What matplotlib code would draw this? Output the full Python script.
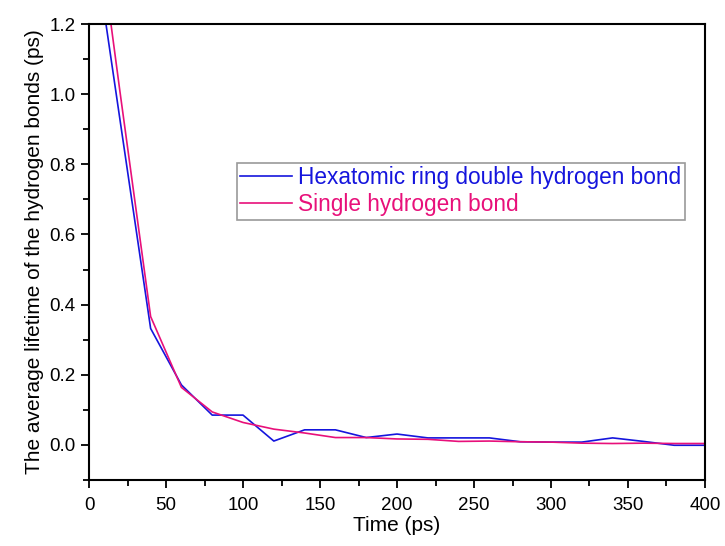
import matplotlib.pyplot as plt
from matplotlib.ticker import MultipleLocator

plt.rcParams['font.family'] = ['Liberation Sans', 'DejaVu Sans']

# time points (ps) and average lifetimes (ps)
time = [0, 20, 40, 60, 80, 100, 120, 140, 160, 180, 200, 220, 240, 260,
        280, 300, 320, 340, 360, 380, 400]
hexatomic = [1.53, 0.93, 0.332, 0.171, 0.085, 0.085, 0.011, 0.043, 0.043, 0.021,
             0.031, 0.020, 0.020, 0.020, 0.009, 0.008, 0.008, 0.020, 0.010,
             -0.001, -0.001]
single = [1.67, 1.01, 0.366, 0.164, 0.094, 0.064, 0.045, 0.034, 0.021, 0.021,
          0.017, 0.016, 0.010, 0.011, 0.009, 0.008, 0.005, 0.004, 0.005,
          0.004, 0.004]

fig, ax = plt.subplots(figsize=(7.25, 5.46), dpi=100)
fig.subplots_adjust(left=0.1228, right=0.9724, top=0.956, bottom=0.1209)

ax.plot(time, hexatomic, color='#1515dd', lw=1.2, label='Hexatomic ring double hydrogen bond')
ax.plot(time, single, color='#e8107a', lw=1.2, label='Single hydrogen bond')

ax.set_xlim(0, 400)
ax.set_ylim(-0.1, 1.2)
ax.xaxis.set_major_locator(MultipleLocator(50))
ax.xaxis.set_minor_locator(MultipleLocator(25))
ax.yaxis.set_major_locator(MultipleLocator(0.2))
ax.yaxis.set_minor_locator(MultipleLocator(0.1))
ax.yaxis.set_major_formatter(plt.FormatStrFormatter('%.1f'))

ax.tick_params(which='major', direction='out', length=6, width=1.3, labelsize=13.5)
ax.tick_params(axis='x', which='major', pad=6)
ax.tick_params(which='minor', direction='out', length=4, width=1.3)
for s in ax.spines.values():
    s.set_linewidth(1.5)

ax.set_xlabel('Time (ps)', fontsize=15, labelpad=2)
ax.set_ylabel('The average lifetime of the hydrogen bonds (ps)', fontsize=15, labelpad=4)

leg = ax.legend(loc='upper left', bbox_to_anchor=(0.24, 0.695), fontsize=16.3,
                frameon=True, fancybox=False, edgecolor='#808080',
                handlelength=2.3, handletextpad=0.28, borderpad=0.14,
                labelspacing=0.18, borderaxespad=0)
leg.get_frame().set_linewidth(1.2)
for txt, line in zip(leg.get_texts(), leg.get_lines()):
    txt.set_color(line.get_color())

fig.savefig('out.png', dpi=100)
